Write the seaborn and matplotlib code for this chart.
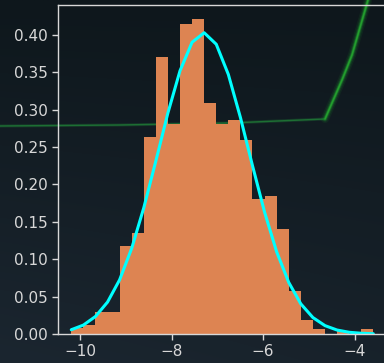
import numpy as np
import pandas as pd
import matplotlib
matplotlib.use("Agg")
import matplotlib.pyplot as plt
import seaborn as sns

# ---- data ----
bin_edges = [-10.190, -9.926, -9.662, -9.398, -9.134, -8.870, -8.607, -8.343,
             -8.079, -7.815, -7.551, -7.287, -7.023, -6.759, -6.495, -6.232,
             -5.968, -5.704, -5.440, -5.176, -4.912, -4.648, -4.384, -4.120,
             -3.857, -3.593]
bin_density = [0.0076, 0.0114, 0.0290, 0.0290, 0.118, 0.135, 0.264, 0.370,
               0.281, 0.415, 0.421, 0.309, 0.281, 0.286, 0.260, 0.180,
               0.185, 0.140, 0.057, 0.019, 0.0072, 0.0, 0.0034, 0.0, 0.0068]
pdf_values = [0.0057, 0.0119, 0.0234, 0.0427, 0.0725, 0.1146, 0.1686, 0.2313,
              0.2957, 0.3520, 0.3902, 0.4029, 0.3875, 0.3471, 0.2895, 0.2252,
              0.1630, 0.1099, 0.0690, 0.0403, 0.0220, 0.0112, 0.0053, 0.0023,
              0.0010, 0.0004]

# decorative glowing background line (figure pixel coordinates)
deco_x = [0, 120, 230, 325, 342, 352, 368]
deco_y = [126, 125, 123, 119, 80, 55, 0]

bin_centers = [(a + b) / 2 for a, b in zip(bin_edges[:-1], bin_edges[1:])]
hist_df = pd.DataFrame({"x": bin_centers, "w": bin_density})
line_df = pd.DataFrame({"x": bin_edges, "y": pdf_values})

sns.set_theme(style="ticks", context="notebook")
plt.rcParams["font.family"] = ["DejaVu Sans"]

W, H = 384, 363
fig = plt.figure(figsize=(W / 100, H / 100), dpi=100)

# background gradient
bg = fig.add_axes([0, 0, 1, 1], zorder=0)
yy, xx = np.mgrid[0:1:200j, 0:1:200j]
top = np.array([0x0e, 0x17, 0x1c]) / 255
bot = np.array([0x1b, 0x26, 0x30]) / 255
t = np.clip(0.75 * yy + 0.25 * (1 - xx) * yy, 0, 1)[..., None]
grad = top * (1 - t) + bot * t
bg.imshow(grad, extent=[0, W, H, 0], aspect="auto", interpolation="bilinear")
# thin flat part + glowing steep part
bg.plot(deco_x, deco_y, color="#1d6a34", lw=2.2, alpha=0.35,
        solid_joinstyle="round")
bg.plot(deco_x, deco_y, color="#1f7a36", lw=1.0, alpha=0.85,
        solid_joinstyle="round")
for lw, a in [(6, 0.12), (4, 0.22), (2.4, 0.45)]:
    bg.plot(deco_x[3:], deco_y[3:], color="#1c8a2a", lw=lw, alpha=a,
            solid_capstyle="round", solid_joinstyle="round")
bg.plot(deco_x[3:], deco_y[3:], color="#25a22e", lw=1.1, alpha=0.9,
        solid_joinstyle="round")
bg.set_xlim(0, W)
bg.set_ylim(H, 0)
bg.axis("off")

# main axes
left, right, bottom_px, top_px = 58, 390.2, 334, 5
ax = fig.add_axes([left / W, (H - bottom_px) / H, (right - left) / W,
                   (bottom_px - top_px) / H], zorder=1)
ax.patch.set_alpha(0)

sns.histplot(data=hist_df, x="x", weights="w", bins=bin_edges, stat="count",
             color="#DD8452", alpha=1, linewidth=0, ax=ax)
sns.lineplot(data=line_df, x="x", y="y", color="#00FFFF", linewidth=2.2,
             ax=ax)

ax.set_xlabel("")
ax.set_ylabel("")
ax.set_xlim(-10.48, -10.48 + (right - left) / 45.78)
ax.set_ylim(0, 0.44)
ax.set_xticks([-10, -8, -6, -4])
ax.set_yticks(np.arange(0, 0.41, 0.05))
ax.yaxis.set_major_formatter(matplotlib.ticker.FormatStrFormatter("%.2f"))

for side in ["left", "top", "bottom", "right"]:
    ax.spines[side].set_visible(True)
    ax.spines[side].set_color("#d8d8d8")
    ax.spines[side].set_linewidth(1.0)
ax.tick_params(colors="#d8d8d8", labelcolor="#d8d8d8", labelsize=11,
               length=4, width=1)

fig.savefig("out.png", dpi=100)
